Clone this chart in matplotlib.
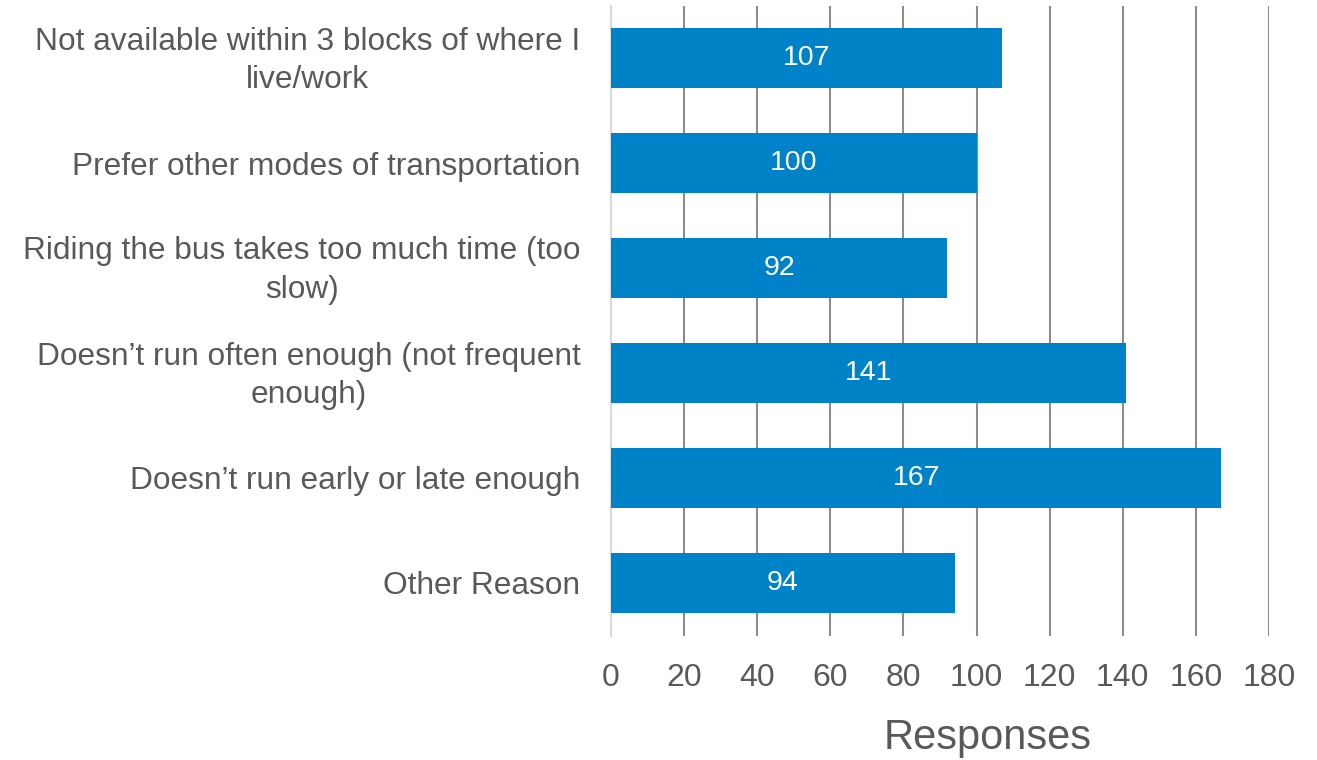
import matplotlib
matplotlib.use("Agg")
import matplotlib.pyplot as plt
import matplotlib.transforms as mtransforms

categories = [
    "Not available within 3 blocks of where I\nlive/work",
    "Prefer other modes of transportation",
    "Riding the bus takes too much time (too\nslow)",
    "Doesn\u2019t run often enough (not frequent\nenough)",
    "Doesn\u2019t run early or late enough",
    "Other Reason",
]
values = [107, 100, 92, 141, 167, 94]
xticks = [0, 20, 40, 60, 80, 100, 120, 140, 160, 180]

plt.rcParams['font.family'] = ['Liberation Sans', 'DejaVu Sans']
text_color = '#595959'
bar_color = '#0082C8'

fig = plt.figure(figsize=(13.17, 7.6), dpi=100)
ax = fig.add_axes([611 / 1317, 1 - 635.5 / 760, 658 / 1317, 630 / 760])

ypos = list(range(len(categories)))
bars = ax.barh(ypos, values, height=0.57, color=bar_color, zorder=3)
for y, v in zip(ypos, values):
    ax.text(v / 2, y, str(v), ha='center', va='center', color='white', fontsize=20.5, zorder=4)

ax.set_ylim(len(categories) - 0.5, -0.5)
ax.set_xlim(0, 180)
ax.set_xticks(xticks)
ax.set_xticklabels([str(t) for t in xticks])
ax.set_yticks(ypos)
ax.set_yticklabels(categories, multialignment='center', linespacing=1.36)

for t in xticks[1:]:
    ax.axvline(t, color='#8c8c8c', lw=1.5, zorder=1)

for s in ['top', 'right', 'bottom']:
    ax.spines[s].set_visible(False)
ax.spines['left'].set_color('#d9d9d9')
ax.spines['left'].set_linewidth(1.5)

ax.tick_params(axis='x', length=0, pad=20, labelsize=23, labelcolor=text_color)
ax.tick_params(axis='y', length=0, pad=22, labelsize=22.8, labelcolor=text_color)

shift = mtransforms.ScaledTranslation(0, 5 / 100, fig.dpi_scale_trans)
for lbl in ax.get_yticklabels():
    if "\n" in lbl.get_text():
        lbl.set_transform(lbl.get_transform() + shift)

fig.text(988 / 1317, 1 - 738 / 760, "Responses", ha='center', va='center', fontsize=30, color=text_color)

fig.savefig("out.png", dpi=100)
